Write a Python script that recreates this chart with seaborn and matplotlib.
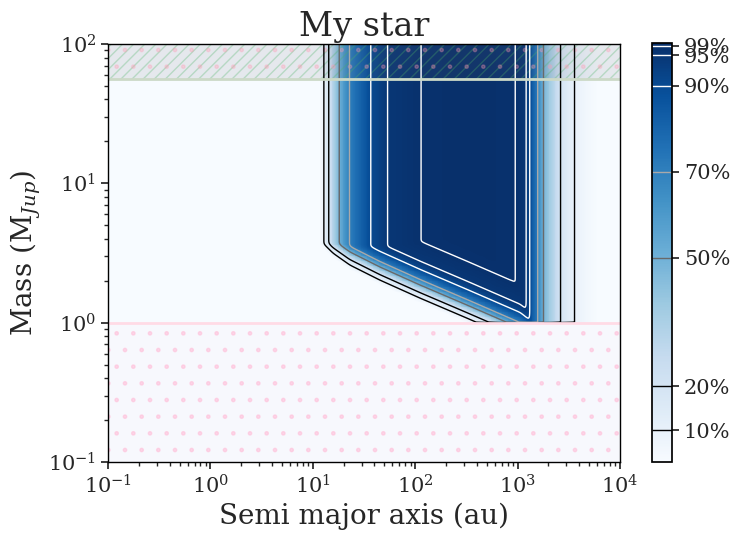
import numpy as np
import matplotlib
matplotlib.use("Agg")
import matplotlib.pyplot as plt
import matplotlib.colors as mcolors
import seaborn as sns

# Detection-probability profile along semi-major axis (log10 au -> prob)
a_log = [1.051, 1.109, 1.158, 1.256, 1.354, 1.559, 1.725, 2.047, 2.535, 2.994, 3.092, 3.121, 3.199, 3.248, 3.414, 3.551, 3.707, 3.902]
a_prob = [0.0, 0.1, 0.2, 0.5, 0.7, 0.9, 0.95, 0.99, 1.0, 0.99, 0.95, 0.9, 0.7, 0.5, 0.2, 0.1, 0.05, 0.0]
# 10% lower mass limit (log10 Mjup) versus log10 a
lim_a = [-1.0, 1.070, 1.197, 1.363, 1.656, 2.047, 2.506, 3.023, 4.0]
lim_m = [0.593, 0.593, 0.500, 0.414, 0.306, 0.177, 0.033, -0.132, -0.70]
# Probability versus mass offset above that limit (dex)
dm_off = [-0.05, 0.0, 0.043, 0.093, 0.13, 0.2, 0.26, 0.40, 0.6]
dm_prob = [0.0, 0.1, 0.2, 0.5, 0.7, 0.9, 0.95, 0.99, 1.0]
levels = [0.10, 0.20, 0.50, 0.70, 0.90, 0.95, 0.99]
level_labels = ["10%", "20%", "50%", "70%", "90%", "95%", "99%"]
level_colors = ["black", "black", "dimgray", "darkgray", "white", "white", "white"]
# colorbar position mapping (value -> fraction)
cb_vals = [0.028, 0.1, 0.2, 0.5, 0.7, 0.9, 0.95, 0.99, 1.0]
cb_frac = [0.0, 0.0756, 0.181, 0.488, 0.693, 0.898, 0.971, 0.993, 1.0]
m_min, m_max = 1.0, 56.0

sns.set_theme(style="white")
plt.rcParams["font.family"] = ["DejaVu Serif"]
plt.rcParams["mathtext.fontset"] = "dejavuserif"

la = np.linspace(-1, 4, 600)
lm = np.linspace(-1, 2, 500)
LA, LM = np.meshgrid(la, lm)
PA = np.interp(LA, a_log, a_prob)
PM = np.interp(LM - np.interp(LA, lim_a, lim_m), dm_off, dm_prob)
P = np.minimum(PA, PM)
# light smoothing to round corners
k = np.exp(-0.5 * (np.arange(-4, 5) / 1.8) ** 2); k /= k.sum()
P = np.apply_along_axis(lambda r: np.convolve(np.pad(r, 4, mode="edge"), k, mode="valid"), 1, P)
P = np.apply_along_axis(lambda c: np.convolve(np.pad(c, 4, mode="edge"), k, mode="valid"), 0, P)
P[LM < np.log10(m_min)] = 0.0

norm = mcolors.FuncNorm((lambda v: np.interp(v, cb_vals, cb_frac),
                         lambda f: np.interp(f, cb_frac, cb_vals)), vmin=0.028, vmax=1.0)

fig = plt.figure(figsize=(7.39, 5.39), dpi=100)
ax = fig.add_axes([108/739, 1-462/539, 512/739, 418/539])
cax = fig.add_axes([652/739, 1-462/539, 20/739, 419/539])

X, Y = 10**LA, 10**LM
mesh = ax.pcolormesh(X, Y, P, cmap="Blues", norm=norm, shading="auto", rasterized=True)
cs = ax.contour(X, Y, P, levels=levels, colors=level_colors, linewidths=1.0)

ax.axhspan(m_max, 100, facecolor=(0.4, 0.4, 0.45, 0.12), edgecolor=(0.3, 0.7, 0.4, 0.3), hatch="///", linewidth=0)
ax.axhspan(m_max, 100, facecolor="none", edgecolor=(1.0, 0.6, 0.7, 0.3), hatch=".", linewidth=0)
ax.axhspan(0.1, m_min, facecolor=(1.0, 0.85, 0.9, 0.08), edgecolor=(1.0, 0.75, 0.85, 0.6), hatch=".", linewidth=0)
ax.axhline(m_min, color=(1.0, 0.86, 0.9), lw=2)
ax.axhline(m_max, color=(0.8, 0.85, 0.78), lw=2)

ax.set_xscale("log"); ax.set_yscale("log")
ax.set_xlim(0.1, 1e4); ax.set_ylim(0.1, 100)
ax.set_xlabel("Semi major axis (au)", fontsize=20)
ax.set_ylabel(r"Mass (M$_{Jup}$)", fontsize=20)
ax.set_title("My star", fontsize=24)
ax.tick_params(labelsize=15, direction="out", length=5, which="major", left=True, bottom=True)
ax.tick_params(which="minor", left=True, bottom=True, length=3)
for s in ax.spines.values():
    s.set_color("black"); s.set_linewidth(1)

cb = fig.colorbar(mesh, cax=cax, ticks=levels)
cb.add_lines(cs)
cb.ax.set_yticklabels(level_labels)
cb.ax.tick_params(labelsize=15, length=5, right=True)
cb.outline.set_edgecolor("black")

fig.savefig("out.png", dpi=100)
